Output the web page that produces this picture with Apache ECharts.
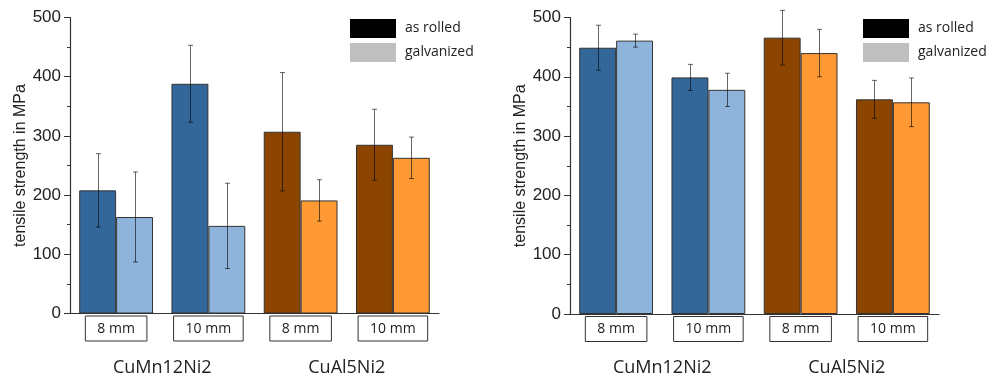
<!DOCTYPE html>
<html><head><meta charset="utf-8">
<script src="https://cdn.jsdelivr.net/npm/echarts@6/dist/echarts.min.js"></script>
<style>html,body{margin:0;padding:0;background:#fff}#c{width:1003px;height:377px}</style>
</head><body><div id="c"></div>
<script>
// ---- data ----
const sizes = ['8 mm', '10 mm', '8 mm', '10 mm'];
const alloys = ['CuMn12Ni2', 'CuAl5Ni2'];
const seriesNames = ['as rolled', 'galvanized'];
const yTicks = [0, 100, 200, 300, 400, 500];
// left panel
const leftRolled = [208, 388, 307, 285];
const leftRolledErr = [62, 65, 100, 60];
const leftGalv = [163, 148, 191, 263];
const leftGalvErr = [76, 72, 35, 35];
// right panel
const rightRolled = [449, 399, 466, 362];
const rightRolledErr = [38, 22, 46, 32];
const rightGalv = [461, 378, 440, 357];
const rightGalvErr = [11, 28, 40, 41];

// ---- styles ----
const darkColors = ['#336699', '#336699', '#8b4500', '#8b4500'];
const lightColors = ['#8eb4dc', '#8eb4dc', '#ff9933', '#ff9933'];
const SANS = '"Open Sans", "Noto Sans", sans-serif';
const ARIAL = '"Liberation Sans", Arial, sans-serif';

function barData(vals, cols) {
  return vals.map((v, i) => ({ value: v, itemStyle: { color: cols[i] } }));
}
function errData(vals, errs) {
  return vals.map((v, i) => [i, v, errs[i]]);
}
function errSeries(idx, vals, errs, dir) {
  return {
    type: 'custom', xAxisIndex: idx * 2, yAxisIndex: idx, clip: false, silent: true, z: 5,
    data: errData(vals, errs),
    renderItem: function (params, api) {
      const i = api.value(0), v = api.value(1), e = api.value(2);
      const bw = api.size([1, 0])[0];
      const c = api.coord([i, v]);
      const x = Math.round(c[0] + dir * bw * 0.2) + 0.5;
      const yt = api.coord([i, v + e])[1];
      const yb = api.coord([i, v - e])[1];
      const st = { stroke: 'rgba(0,0,0,0.6)', lineWidth: 1 };
      const cw = 2.5;
      return { type: 'group', children: [
        { type: 'line', shape: { x1: x, y1: yt, x2: x, y2: yb }, style: st },
        { type: 'line', shape: { x1: x - cw, y1: yt, x2: x + cw, y2: yt }, style: st },
        { type: 'line', shape: { x1: x - cw, y1: yb, x2: x + cw, y2: yb }, style: st }
      ]};
    }
  };
}
function barSeries(idx, name, vals, cols) {
  return {
    type: 'bar', name: name, xAxisIndex: idx * 2, yAxisIndex: idx,
    barWidth: '40%', barGap: '0%',
    itemStyle: { borderColor: '#333', borderWidth: 1 },
    data: barData(vals, cols)
  };
}
const grids = [
  { left: 70, top: 17.5, width: 369, height: 296 },
  { left: 570, top: 17.5, width: 369, height: 296.5 }
];
const xAxes = [], yAxes = [], legends = [];
[0, 1].forEach(g => {
  xAxes.push({
    type: 'category', gridIndex: g, data: sizes,
    axisLine: { show: true, lineStyle: { color: '#333', width: 1.2 } },
    axisTick: { show: false },
    axisLabel: {
      margin: 7, interval: 0,
      formatter: v => '{b|' + v + '}',
      rich: { b: { fontFamily: SANS, fontSize: 14, color: '#222', borderColor: '#333', borderWidth: 1,
        padding: [6, 12, 5, 12], lineHeight: 16 } }
    }
  });
  xAxes.push({
    type: 'category', gridIndex: g, data: alloys, position: 'bottom',
    axisLine: { show: false }, axisTick: { show: false },
    axisLabel: { margin: 45, fontFamily: SANS, fontSize: 18, color: '#222' }
  });
  yAxes.push({
    type: 'value', gridIndex: g, min: yTicks[0], max: yTicks[yTicks.length - 1], interval: 100,
    name: 'tensile strength in MPa', nameLocation: 'middle', nameGap: 41,
    nameTextStyle: { fontFamily: ARIAL, fontSize: 16, color: '#222' },
    axisLine: { show: true, lineStyle: { color: '#333', width: 1.2 } },
    axisTick: { show: true, inside: false, length: 6, lineStyle: { color: '#333' } },
    minorTick: { show: true, splitNumber: 2, length: 3, lineStyle: { color: '#333' } },
    splitLine: { show: false },
    axisLabel: { margin: 9, fontFamily: ARIAL, fontSize: 17, color: '#222' }
  });
});
const legendData = [
  { name: seriesNames[0], itemStyle: { color: '#000', borderWidth: 0 } },
  { name: seriesNames[1], itemStyle: { color: '#bfbfbf', borderWidth: 0 } }
];
[350, 863].forEach(l => legends.push({
  left: l, top: 19, padding: 0, orient: 'vertical', icon: 'rect', itemWidth: 46, itemHeight: 19, itemGap: 5,
  selectedMode: false, data: legendData,
  textStyle: { fontFamily: SANS, fontSize: 14, color: '#222', padding: [0, 0, 0, 4] }
}));

const chart = echarts.init(document.getElementById('c'), null, { renderer: 'canvas' });
chart.setOption({
  animation: false, backgroundColor: '#fff',
  grid: grids, xAxis: xAxes, yAxis: yAxes, legend: legends,
  series: [
    barSeries(0, seriesNames[0], leftRolled, darkColors),
    barSeries(0, seriesNames[1], leftGalv, lightColors),
    errSeries(0, leftRolled, leftRolledErr, -1),
    errSeries(0, leftGalv, leftGalvErr, 1),
    barSeries(1, seriesNames[0], rightRolled, darkColors),
    barSeries(1, seriesNames[1], rightGalv, lightColors),
    errSeries(1, rightRolled, rightRolledErr, -1),
    errSeries(1, rightGalv, rightGalvErr, 1)
  ]
});
</script></body></html>
